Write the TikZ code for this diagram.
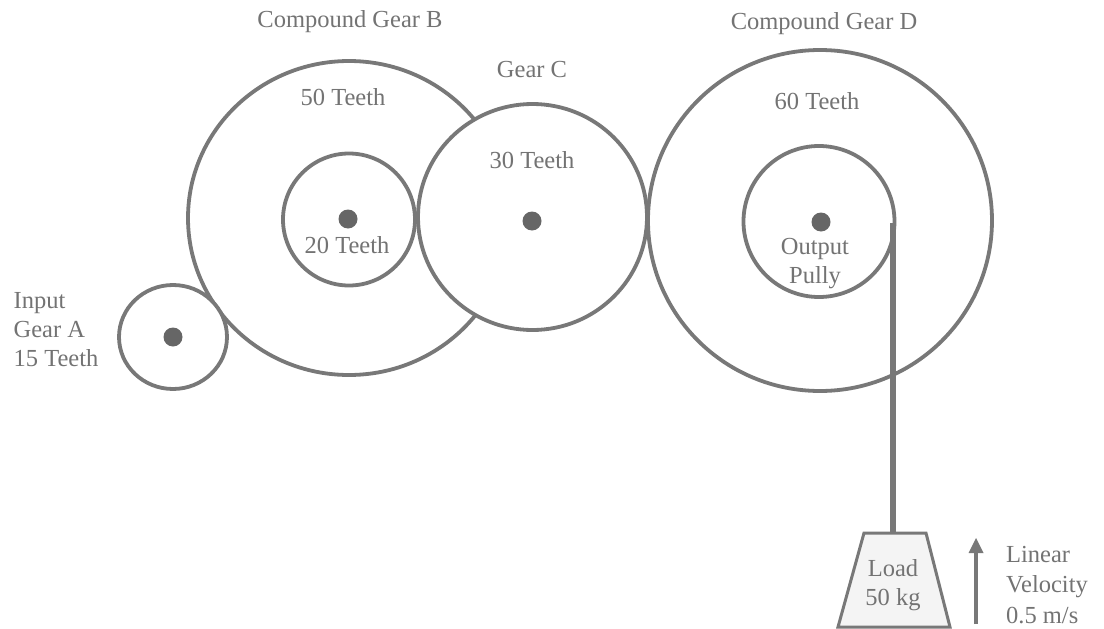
\documentclass[tikz,border=0pt]{standalone}
\usepackage{fontspec}
\setmainfont{Liberation Serif}
\definecolor{ink}{gray}{0.47}
\definecolor{txt}{gray}{0.45}
\tikzset{
 gearline/.style={draw=ink,line width=3.8pt,fill=white},
 hub/.style={circle,fill=ink!85!black,inner sep=0pt,minimum size=19pt},
 lab/.style={text=txt,inner sep=0pt,align=center,font=\fontsize{24.5}{29}\selectfont},
 labl/.style={lab,align=left},
}
\begin{document}
\begin{tikzpicture}[x=1pt,y=-1pt]
\useasboundingbox (0,0) rectangle (1104,629);
% gears
\draw[gearline] (349,218) ellipse [x radius=161,y radius=157];
\draw[gearline] (349,219.5) ellipse [x radius=66,y radius=66];
\draw[gearline] (173,337) ellipse [x radius=54,y radius=52];
\draw[gearline] (532.5,217) ellipse [x radius=114.5,y radius=113];
\draw[gearline] (820,220.5) ellipse [x radius=172,y radius=170.5];
\draw[gearline] (819,221.5) circle (75.5);
% hubs
\node[hub] (hubA) at (173,337) {};
\node[hub] (hubB) at (348,219) {};
\node[hub] (hubC) at (532,221) {};
\node[hub] (hubD) at (821,222) {};
% load
\coordinate (ropeTop) at (893,223);
\coordinate (loadTop) at (893,533);
\draw[draw=ink,line width=3pt,fill=gray!9,line join=miter] (864,533) -- (926,533) -- (950,627) -- (838,627) -- cycle;
\draw[draw=ink,line width=5.5pt] (ropeTop) -- (loadTop);
\coordinate (velFrom) at (976,624);
\coordinate (velTo) at (976,538);
\draw[draw=ink,line width=3.4pt] (velFrom) -- (976,550);
\fill[ink] (velTo) -- (983.5,553) -- (968.5,553) -- cycle;
% labels
\node[lab] (tB) at (350,22) {Compound Gear B};
\node[lab] (tC) at (532,70) {Gear C};
\node[lab] (tD) at (824,24) {Compound Gear D};
\node[lab] (t50) at (343,97) {50 Teeth};
\node[lab] (t60) at (817,101) {60 Teeth};
\node[lab] (t30) at (532,160) {30 Teeth};
\node[lab] (t20) at (347,245) {20 Teeth};
\node[lab] (tP) at (815,264) {Output\\Pully};
\node[labl] (tA) at (56,330) {Input\\Gear A\\15 Teeth};
\node[lab] (tL) at (893,585) {Load\\50 kg};
\node[labl,font=\fontsize{24.5}{30.5}\selectfont] (tV) at (1047,585) {Linear\\Velocity\\0.5 m/s};
\end{tikzpicture}
\end{document}
